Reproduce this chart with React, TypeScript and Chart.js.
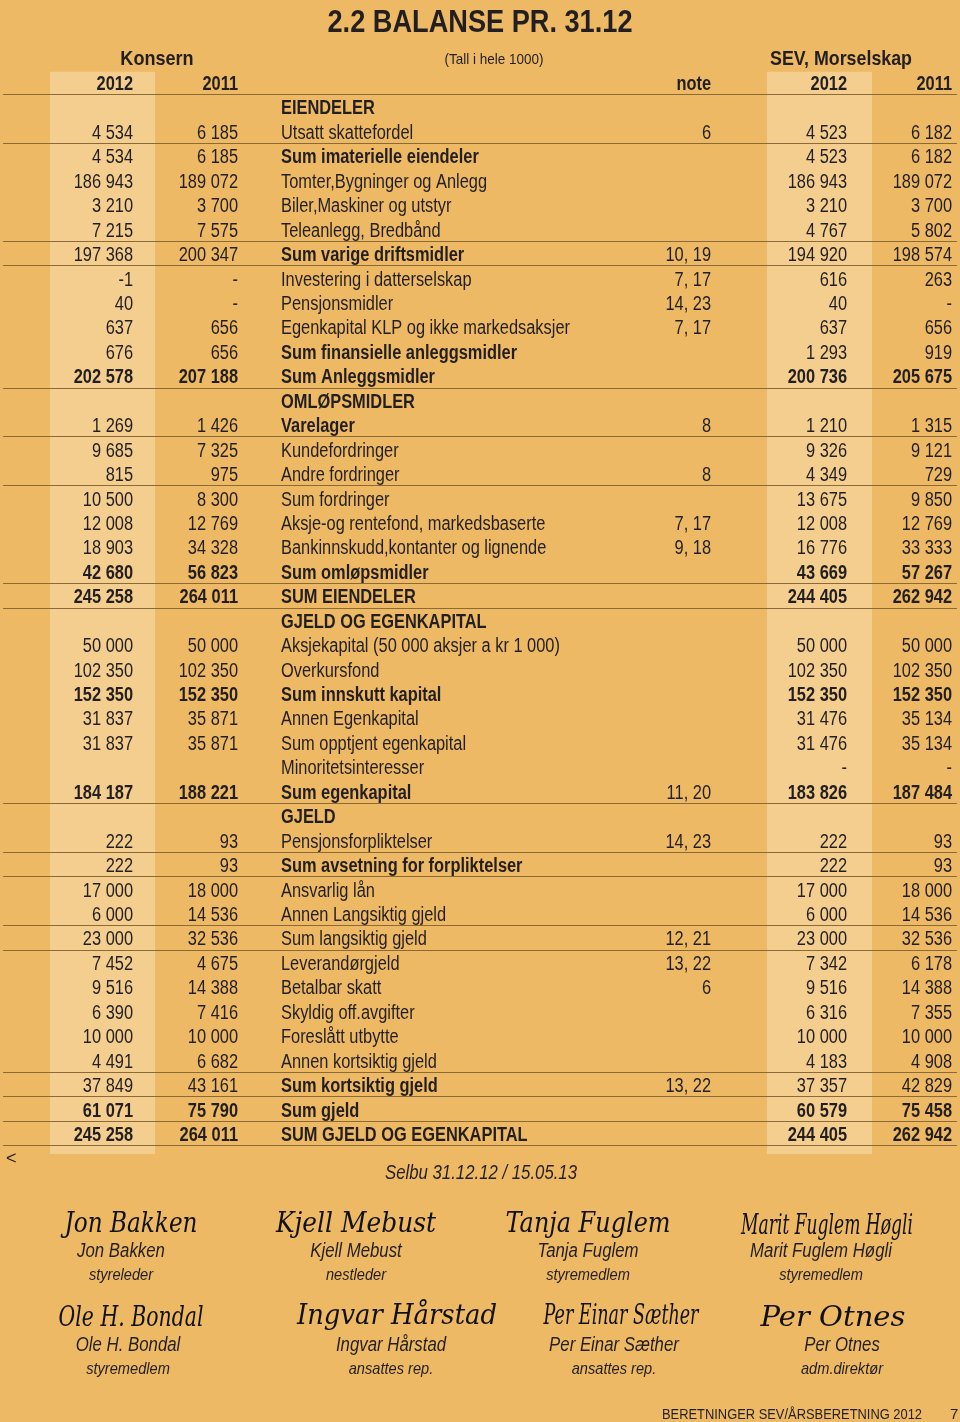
import { useEffect, useRef } from "react";
import { Chart, registerables } from "chart.js";
Chart.register(...registerables);

type Cell = number | "-" | null;

// ---------- DATA ----------
const title = "2.2 BALANSE PR. 31.12";
const groupLeft = "Konsern";
const groupRight = "SEV, Morselskap";
const unitNote = "(Tall i hele 1000)";
const yearHeaders = ["2012", "2011", "note", "2012", "2011"];

const labels: string[] = [
  "EIENDELER",
  "Utsatt skattefordel",
  "Sum imaterielle eiendeler",
  "Tomter,Bygninger og Anlegg",
  "Biler,Maskiner og utstyr",
  "Teleanlegg, Bredbånd",
  "Sum varige driftsmidler",
  "Investering i datterselskap",
  "Pensjonsmidler",
  "Egenkapital KLP og ikke markedsaksjer",
  "Sum finansielle anleggsmidler",
  "Sum Anleggsmidler",
  "OMLØPSMIDLER",
  "Varelager",
  "Kundefordringer",
  "Andre fordringer",
  "Sum fordringer",
  "Aksje-og rentefond, markedsbaserte",
  "Bankinnskudd,kontanter og lignende",
  "Sum omløpsmidler",
  "SUM EIENDELER",
  "GJELD OG EGENKAPITAL",
  "Aksjekapital (50 000 aksjer a kr 1 000)",
  "Overkursfond",
  "Sum innskutt kapital",
  "Annen Egenkapital",
  "Sum opptjent egenkapital",
  "Minoritetsinteresser",
  "Sum egenkapital",
  "GJELD",
  "Pensjonsforpliktelser",
  "Sum avsetning for forpliktelser",
  "Ansvarlig lån",
  "Annen Langsiktig gjeld",
  "Sum langsiktig gjeld",
  "Leverandørgjeld",
  "Betalbar skatt",
  "Skyldig off.avgifter",
  "Foreslått utbytte",
  "Annen kortsiktig gjeld",
  "Sum kortsiktig gjeld",
  "Sum gjeld",
  "SUM GJELD OG EGENKAPITAL",
];

const notes: string[] = [
  "", "6", "", "", "", "", "10, 19", "7, 17", "14, 23", "7, 17", "", "",
  "", "8", "", "8", "", "7, 17", "9, 18", "", "",
  "", "", "", "", "", "", "", "11, 20",
  "", "14, 23", "", "", "", "12, 21", "13, 22", "6", "", "", "", "13, 22", "", "",
];

const konsern2012: Cell[] = [
  null, 4534, 4534, 186943, 3210, 7215, 197368, -1, 40, 637, 676, 202578,
  null, 1269, 9685, 815, 10500, 12008, 18903, 42680, 245258,
  null, 50000, 102350, 152350, 31837, 31837, null, 184187,
  null, 222, 222, 17000, 6000, 23000, 7452, 9516, 6390, 10000, 4491, 37849, 61071, 245258,
];
const konsern2011: Cell[] = [
  null, 6185, 6185, 189072, 3700, 7575, 200347, "-", "-", 656, 656, 207188,
  null, 1426, 7325, 975, 8300, 12769, 34328, 56823, 264011,
  null, 50000, 102350, 152350, 35871, 35871, null, 188221,
  null, 93, 93, 18000, 14536, 32536, 4675, 14388, 7416, 10000, 6682, 43161, 75790, 264011,
];
const sev2012: Cell[] = [
  null, 4523, 4523, 186943, 3210, 4767, 194920, 616, 40, 637, 1293, 200736,
  null, 1210, 9326, 4349, 13675, 12008, 16776, 43669, 244405,
  null, 50000, 102350, 152350, 31476, 31476, "-", 183826,
  null, 222, 222, 17000, 6000, 23000, 7342, 9516, 6316, 10000, 4183, 37357, 60579, 244405,
];
const sev2011: Cell[] = [
  null, 6182, 6182, 189072, 3700, 5802, 198574, 263, "-", 656, 919, 205675,
  null, 1315, 9121, 729, 9850, 12769, 33333, 57267, 262942,
  null, 50000, 102350, 152350, 35134, 35134, "-", 187484,
  null, 93, 93, 18000, 14536, 32536, 6178, 14388, 7355, 10000, 4908, 42829, 75458, 262942,
];

const placeDate = "Selbu 31.12.12 / 15.05.13";
const signers = ["Jon Bakken", "Kjell Mebust", "Tanja Fuglem", "Marit Fuglem Høgli", "Ole H. Bondal", "Ingvar Hårstad", "Per Einar Sæther", "Per Otnes"];
const roles = ["styreleder", "nestleder", "styremedlem", "styremedlem", "styremedlem", "ansattes rep.", "ansattes rep.", "adm.direktør"];
const footerText = "BERETNINGER SEV/ÅRSBERETNING 2012";
const pageNo = "7";

// ---------- LAYOUT / STYLE ----------
// table row index: 0 = year header row, 1..43 = labels
const headingRows = [1, 13, 22, 30];
const boldLabelRows = [3, 7, 11, 14, 32, 41];
const boldAllRows = [12, 20, 21, 25, 29, 42, 43];
const ruleAfterRows = [0, 2, 6, 7, 12, 14, 16, 20, 21, 29, 31, 32, 34, 35, 40, 41, 42, 43];
const colRight = [133, 238, 711, 847, 952];
const labelX = 281;
const hiCols = [[50, 155], [767, 872]];

const BG = "#EDB964";
const HI = "#F3CE8F";
const INK = "#231F20";
const RULE = "#8A6A38";
const FAM = '"Liberation Sans", Arial, Helvetica, sans-serif';

function fmt(v: Cell): string {
  if (v === null) return "";
  if (v === "-") return "-";
  const s = String(Math.abs(v)).replace(/\B(?=(\d{3})+(?!\d))/g, " ");
  return v < 0 ? "-" + s : s;
}

function txt(
  ctx: CanvasRenderingContext2D, s: string, x: number, y: number, size: number,
  o: { bold?: boolean; italic?: boolean; align?: CanvasTextAlign; cond?: number; w?: number; fam?: string; color?: string } = {}
) {
  ctx.save();
  ctx.font = `${o.italic ? "italic " : ""}${o.bold ? "bold " : ""}${size}px ${o.fam || FAM}`;
  let c = o.cond ?? 0.82;
  if (o.w) c = o.w / ctx.measureText(s).width;
  ctx.translate(x, y);
  ctx.scale(c, 1);
  ctx.textAlign = o.align || "left";
  ctx.textBaseline = "alphabetic";
  ctx.fillStyle = o.color || INK;
  ctx.fillText(s, 0, 0);
  ctx.restore();
}

const ROW_PX = (1133 - 82) / 43;
const Y_MIN = -82 / ROW_PX;
const Y_MAX = Y_MIN + 1422 / ROW_PX;

const tablePlugin = {
  id: "balanseTable",
  beforeDraw(chart: any) {
    const ctx: CanvasRenderingContext2D = chart.ctx;
    const xs = chart.scales.x;
    const ys = chart.scales.y;
    const X = (v: number) => xs.getPixelForValue(v);
    const Y = (v: number) => ys.getPixelForValue(v);
    ctx.save();
    ctx.fillStyle = BG;
    ctx.fillRect(0, 0, chart.width, chart.height);
    // highlighted 2012 columns
    ctx.fillStyle = HI;
    for (const [a, b] of hiCols) {
      ctx.fillRect(X(a), Y(-0.42), X(b) - X(a), Y(43.86) - Y(-0.42));
    }
    // rules
    ctx.strokeStyle = RULE;
    ctx.lineWidth = 1;
    for (const r of ruleAfterRows) {
      const y = Math.round(Y(r + 0.5)) + 0.5;
      ctx.beginPath();
      ctx.moveTo(X(3), y);
      ctx.lineTo(X(957), y);
      ctx.stroke();
    }
    ctx.restore();

    // title and group headers
    txt(ctx, title, X(480), 32, 31, { bold: true, align: "center", w: 305 });
    txt(ctx, groupLeft, X(157), 65, 21, { bold: true, align: "center", cond: 0.86 });
    txt(ctx, unitNote, X(494), 64, 15, { align: "center", w: 99 });
    txt(ctx, groupRight, X(841), 65, 21, { bold: true, align: "center", w: 142 });

    const BASE = 8;
    // header row
    yearHeaders.forEach((h, i) => {
      txt(ctx, h, X(colRight[i]), Y(0) + BASE, 20, { bold: true, align: "right" });
    });

    // body rows
    labels.forEach((lab, k) => {
      const r = k + 1;
      const y = Y(r) + BASE;
      const heading = headingRows.includes(r);
      const allBold = boldAllRows.includes(r);
      const labBold = heading || allBold || boldLabelRows.includes(r);
      txt(ctx, lab, X(labelX), y, 20, { bold: labBold });
      const vals = [konsern2012[k], konsern2011[k], null, sev2012[k], sev2011[k]];
      vals.forEach((v, i) => {
        const s = i === 2 ? notes[k] : fmt(v as Cell);
        if (!s) return;
        txt(ctx, s, X(colRight[i]), y, 20, { bold: allBold && i !== 2, align: "right" });
      });
    });

    // footer area
    txt(ctx, "<", X(6), 1164, 18, { cond: 1 });
    txt(ctx, placeDate, X(481), 1179, 20, { italic: true, align: "center", w: 192 });

    const sigX = [131, 356, 588, 827, 131, 397, 621, 833];
    const sigW = [133, 160, 165, 172, 145, 200, 155, 145];
    const sigY = [1232, 1232, 1232, 1234, 1326, 1324, 1324, 1326];
    const nameX = [121, 356, 588, 821, 128, 391, 614, 842];
    const nameY = [1257, 1257, 1257, 1257, 1351, 1351, 1351, 1351];
    signers.forEach((n, i) => {
      txt(ctx, n, X(sigX[i]), sigY[i], 28, {
        italic: true, align: "center", w: sigW[i],
        fam: '"DejaVu Serif", "Liberation Serif", serif', color: "#111",
      });
      txt(ctx, n, X(nameX[i]), nameY[i], 20, { italic: true, align: "center", cond: 0.84 });
      txt(ctx, roles[i], X(nameX[i]), nameY[i] + 23, 17, { italic: true, align: "center", cond: 0.86 });
    });

    txt(ctx, footerText, X(662), 1419, 14, { w: 260 });
    txt(ctx, pageNo, X(950), 1419, 15, { cond: 1 });
  },
};

export default function App() {
  const ref = useRef<HTMLCanvasElement>(null);
  useEffect(() => {
    const chart = new Chart(ref.current!, {
      type: "scatter",
      data: { datasets: [{ data: [], showLine: false, pointRadius: 0 }] },
      options: {
        animation: false,
        responsive: false,
        devicePixelRatio: 1,
        layout: { padding: 0 },
        events: [],
        plugins: { legend: { display: false }, tooltip: { enabled: false }, title: { display: false } },
        scales: {
          x: { type: "linear", min: 0, max: 960, display: false },
          y: { type: "linear", min: Y_MIN, max: Y_MAX, reverse: true, display: false },
        },
      },
      plugins: [tablePlugin],
    });
    return () => chart.destroy();
  }, []);
  return (
    <div style={{ position: "absolute", left: 0, top: 0, width: 960, height: 1422 }}>
      <canvas ref={ref} width={960} height={1422} style={{ display: "block" }} />
    </div>
  );
}
